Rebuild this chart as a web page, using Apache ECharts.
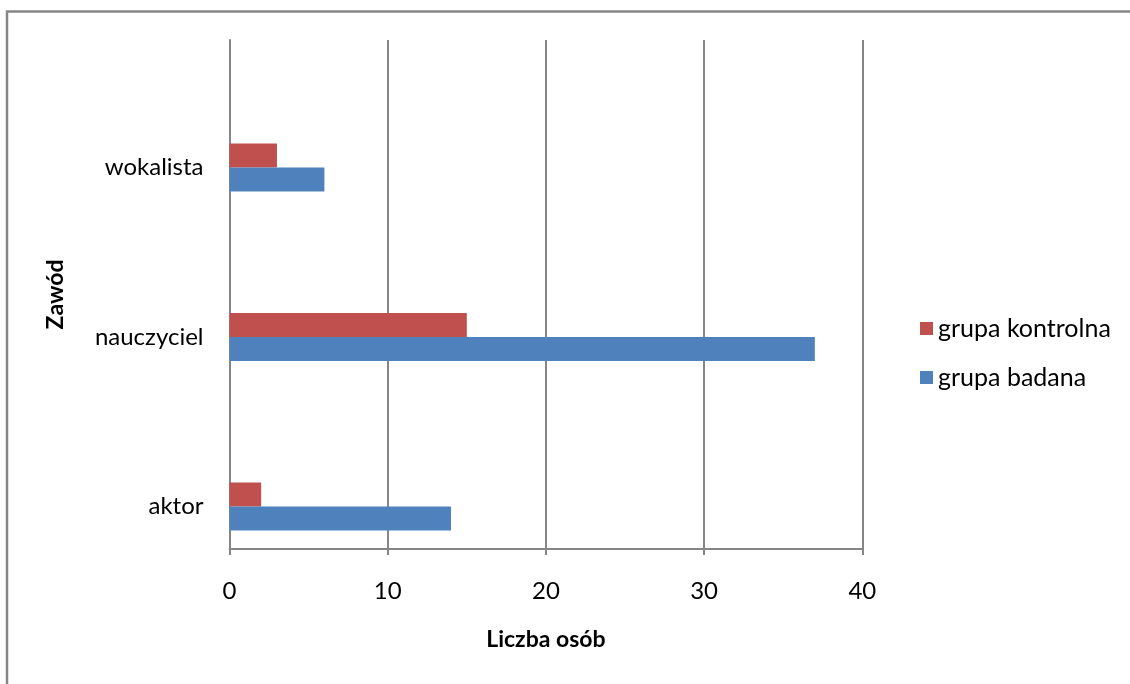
<!DOCTYPE html>
<html>
<head>
<meta charset="utf-8">
<script src="https://cdn.jsdelivr.net/npm/echarts@6/dist/echarts.min.js"></script>
<style>
html,body{margin:0;padding:0;background:#fff;}
#main{width:1130px;height:684px;}
</style>
</head>
<body>
<div id="main"></div>
<script>
var categories = ['aktor', 'nauczyciel', 'wokalista'];
var seriesNames = ['grupa kontrolna', 'grupa badana'];
var kontrolna = [2, 15, 3];
var badana = [14, 37, 6];
var xTicks = [0, 10, 20, 30, 40];
var xTitle = 'Liczba osób';
var yTitle = 'Zawód';

var FONT = 'Lato, "Open Sans", sans-serif';
var GRID_COLOR = '#868686';
var LEFT = 229.5, RIGHT = 1130 - 862.3;

var chart = echarts.init(document.getElementById('main'), null, {renderer: 'canvas'});
chart.setOption({
  backgroundColor: '#fff',
  animation: false,
  textStyle: {fontFamily: FONT},
  graphic: [{
    type: 'rect',
    shape: {x: 7, y: 11.5, width: 1300, height: 900},
    style: {fill: 'none', stroke: GRID_COLOR, lineWidth: 2.5},
    silent: true, z: -10
  }],
  legend: {
    orient: 'vertical',
    left: 920, top: 316, padding: 0,
    data: [seriesNames[0], seriesNames[1]],
    icon: 'rect', itemWidth: 13, itemHeight: 13,
    itemGap: 24, itemTextGap: 7,
    textStyle: {fontFamily: FONT, fontSize: 25, color: '#000', lineHeight: 24}
  },
  grid: [
    {left: LEFT, right: RIGHT, top: 82.75, height: 508.5, containLabel: false},
    {left: LEFT, right: RIGHT, top: 40, height: 509, containLabel: false}
  ],
  xAxis: [
    {gridIndex: 0, type: 'value', min: 0, max: 40, interval: 10, show: false},
    {gridIndex: 1, type: 'value', min: 0, max: 40, interval: 10,
      axisLine: {show: true, lineStyle: {color: GRID_COLOR, width: 2}},
      axisTick: {show: true, length: 6, lineStyle: {color: GRID_COLOR, width: 2}},
      splitLine: {show: true, lineStyle: {color: GRID_COLOR, width: 2}},
      axisLabel: {fontFamily: FONT, fontSize: 24, color: '#000', margin: 30,
        formatter: function (v) { return xTicks.indexOf(v) >= 0 ? String(v) : ''; }},
      name: xTitle, nameLocation: 'middle', nameGap: 79,
      nameTextStyle: {fontFamily: FONT, fontSize: 23, fontWeight: 'bold', color: '#000'}
    }
  ],
  yAxis: [
    {gridIndex: 0, type: 'category', data: categories,
      axisLine: {show: false}, axisTick: {show: false}, splitLine: {show: false},
      axisLabel: {fontFamily: FONT, fontSize: 24, color: '#000', margin: 26}
    },
    {gridIndex: 1, type: 'value', min: 0, max: 1,
      axisLine: {show: true, lineStyle: {color: GRID_COLOR, width: 2}},
      axisTick: {show: false}, axisLabel: {show: false}, splitLine: {show: false},
      name: yTitle, nameLocation: 'middle', nameRotate: 90, nameGap: 162,
      nameTextStyle: {fontFamily: FONT, fontSize: 23, fontWeight: 'bold', color: '#000'}
    }
  ],
  series: [
    {name: seriesNames[0], type: 'bar', xAxisIndex: 0, yAxisIndex: 0,
      data: kontrolna, barWidth: 24, barGap: '0%', itemStyle: {color: '#C0504D'}},
    {name: seriesNames[1], type: 'bar', xAxisIndex: 0, yAxisIndex: 0,
      data: badana, barWidth: 24, barGap: '0%', itemStyle: {color: '#4F81BD'}}
  ]
});
</script>
</body>
</html>
